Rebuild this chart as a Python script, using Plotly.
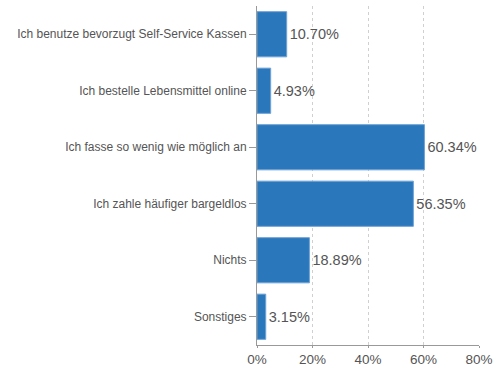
import plotly.graph_objects as go

antworten = ["Ich benutze bevorzugt Self-Service Kassen",
             "Ich bestelle Lebensmittel online",
             "Ich fasse so wenig wie möglich an",
             "Ich zahle häufiger bargeldlos",
             "Nichts",
             "Sonstiges"]
anteile = [10.70, 4.93, 60.34, 56.35, 18.89, 3.15]
x_ticks = [0, 20, 40, 60, 80]

fig = go.Figure(go.Bar(
    x=anteile, y=antworten, orientation="h",
    marker=dict(color="#2a77bc", line=dict(color="#6fa3d6", width=1)),
    text=[f"{v:.2f}%" for v in anteile],
    textposition="outside",
    textfont=dict(size=14.5, color="#555555"),
    cliponaxis=False,
))

fig.update_layout(
    width=496, height=366,
    margin=dict(l=257, r=17, t=6, b=21, autoexpand=False),
    paper_bgcolor="white", plot_bgcolor="white",
    font=dict(family="Liberation Sans, Arial, sans-serif", color="#555555"),
    bargap=0.2,
    showlegend=False,
)
fig.update_xaxes(
    range=[0, 80], tickvals=x_ticks, ticktext=[f"{t}%" for t in x_ticks],
    tickfont=dict(size=13.5, color="#555555"),
    showgrid=True, gridcolor="#d0d0d0", griddash="dot", gridwidth=1,
    showline=True, linecolor="#999999", linewidth=1,
    ticks="outside", ticklen=2, tickcolor="#999999",
    zeroline=False, automargin=False,
)
fig.update_yaxes(
    autorange="reversed",
    tickfont=dict(size=12, color="#555555"),
    showline=True, linecolor="#999999", linewidth=1,
    ticks="outside", ticklen=7, tickcolor="#999999",
    showgrid=False, automargin=False,
)

# browser default body margin would shift the figure by 8px
fig.write_html("out.html", config={"displayModeBar": False},
               post_script="document.body.style.margin='0';")
